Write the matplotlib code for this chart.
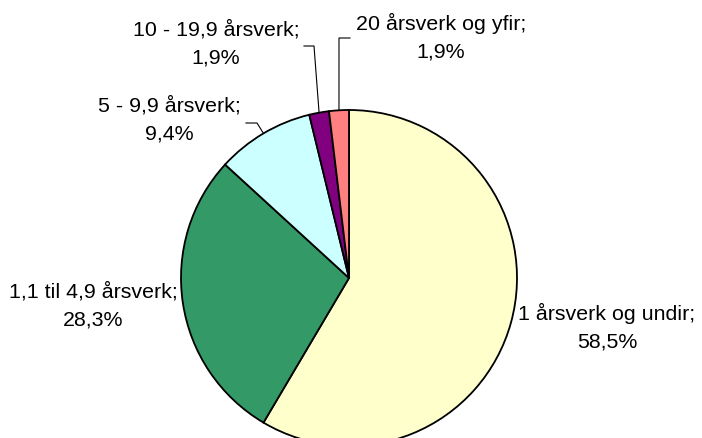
import numpy as np
import matplotlib
matplotlib.use("Agg")
import matplotlib.pyplot as plt

# Data
categories = ["1 årsverk og undir", "1,1 til 4,9 årsverk", "5 - 9,9 årsverk",
              "10 - 19,9 årsverk", "20 årsverk og yfir"]
shares = [58.5, 28.3, 9.4, 1.9, 1.9]
colors = ["#FFFFCC", "#339966", "#CCFFFF", "#800080", "#FF8080"]

W, H = 702, 438
fig = plt.figure(figsize=(W / 100, H / 100), dpi=100)
fig.patch.set_facecolor("white")

# pie geometry in pixels (from top-left)
cx, cy, R = 349, 278, 168
ax = fig.add_axes([(cx - R) / W, (H - cy - R) / H, 2 * R / W, 2 * R / H])
wedges, _ = ax.pie(shares, colors=colors, startangle=90, counterclock=False,
                   radius=1.0, wedgeprops=dict(edgecolor="black", linewidth=1.3))
for w in wedges:
    w.set_clip_on(False)
ax.set_xlim(-1, 1)
ax.set_ylim(-1, 1)
ax.set_aspect("auto")
ax.axis("off")

def px(x, y):
    return (x - cx) / R, (cy - y) / R

font = dict(family=["Liberation Sans", "DejaVu Sans"], fontsize=15.4, color="black")

# label centers (pixel coordinates of text block centre)
label_pos = [(607, 327), (93, 306), (169, 120), (216, 44), (441, 37)]
for cat, val, (lx, ly) in zip(categories, shares, label_pos):
    txt = f"{cat};\n" + f"{val:.1f}".replace(".", ",") + "%"
    x, y = px(lx, ly)
    ax.text(x, y, txt, ha="center", va="center", multialignment="center",
            linespacing=1.6, clip_on=False, **font)

# leader lines for small slices
cum = np.cumsum([0] + shares[:-1])
mid_angles = [np.deg2rad(90 - (c + s / 2) / 100 * 360) for c, s in zip(cum, shares)]
leaders = {2: [(246, 123), (257, 123)], 3: [(304, 46), (314, 46)], 4: [(350, 38), (339, 38)]}
for i, pts in leaders.items():
    xs = [px(*p)[0] for p in pts] + [np.cos(mid_angles[i])]
    ys = [px(*p)[1] for p in pts] + [np.sin(mid_angles[i])]
    ax.plot(xs, ys, color="black", linewidth=0.8, clip_on=False)

fig.savefig("out.png", dpi=100, facecolor="white")
